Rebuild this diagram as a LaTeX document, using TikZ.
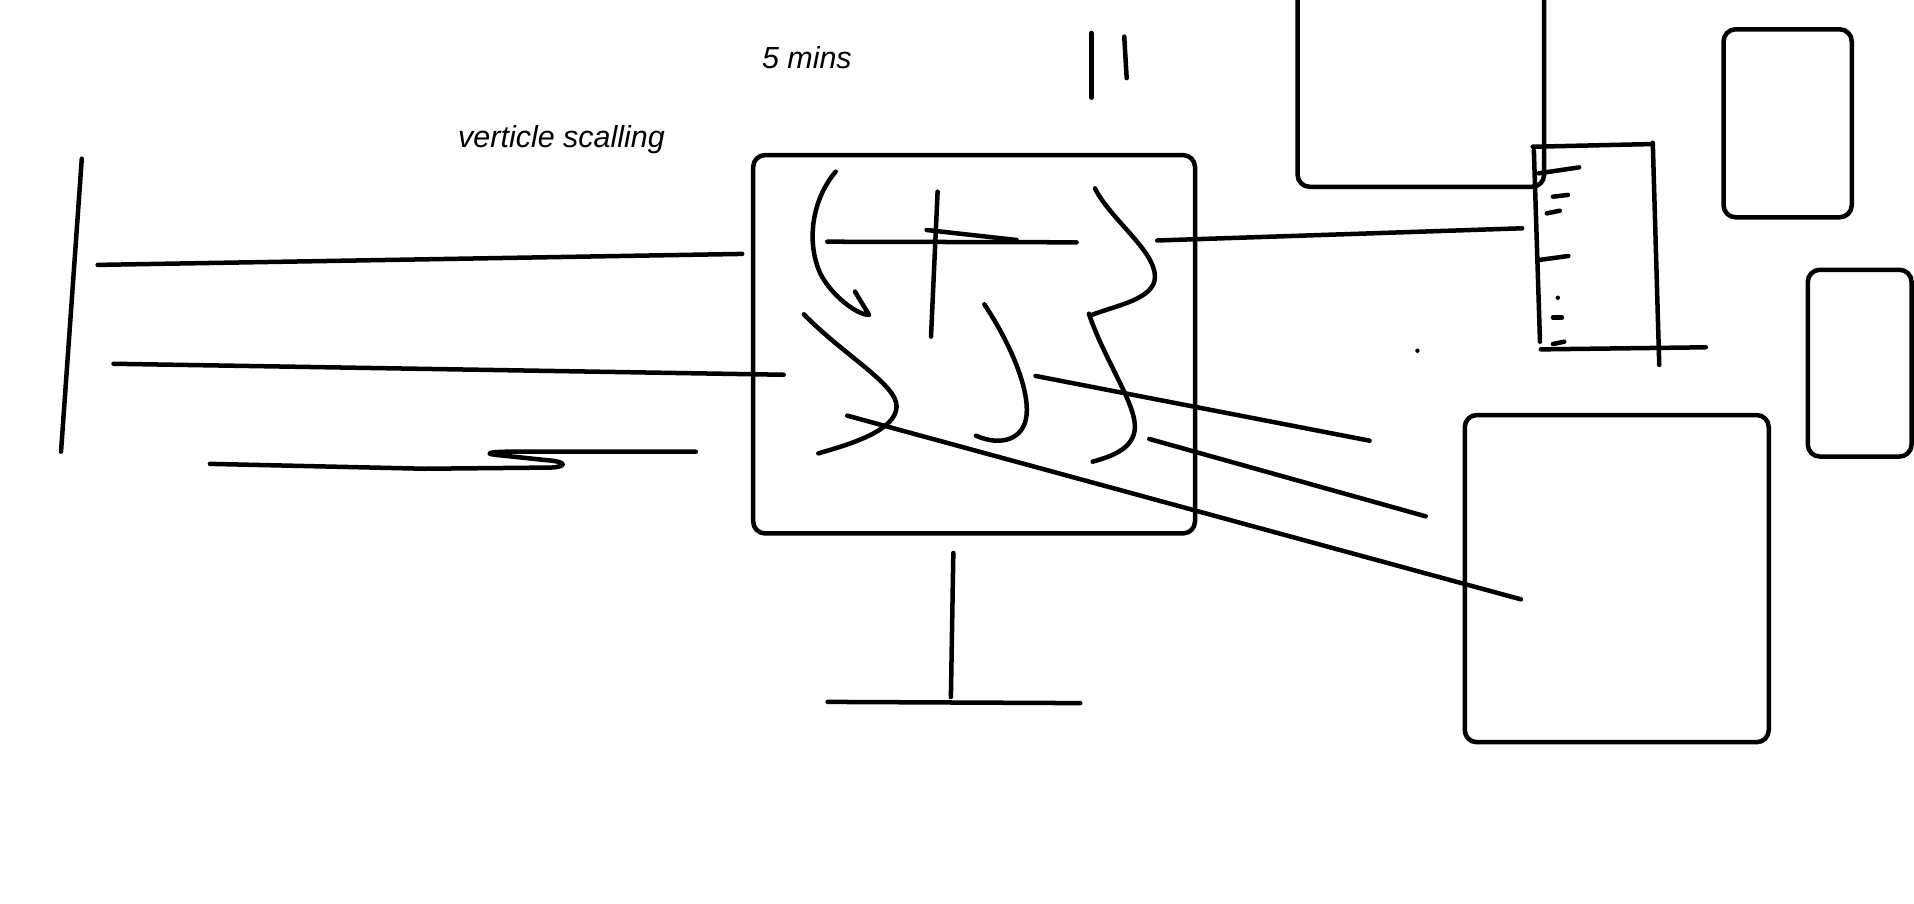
\documentclass[tikz,border=0pt]{standalone}
\usepackage{fontspec}
\setmainfont{Liberation Sans}
\usepackage{tikz}
\usetikzlibrary{positioning}

\begin{document}
\begin{tikzpicture}[
    x=0.1mm, y=-0.1mm,
    sketch/.style={line width=1.05pt, line cap=round, line join=round},
    panel/.style={sketch, rounded corners=2.8pt},
    note/.style={font=\fontsize{7.1}{8.5}\selectfont\itshape, inner sep=0pt}
]
\useasboundingbox (0,0) rectangle (1568,740);
\clip (0,0) rectangle (1568,740);

% Labels
\node[note] (fivemins) at (661,47) {5 mins};
\node[note] (vscaling) at (460,114) {verticle scalling};

% Left strokes
\draw[sketch] (67,130) -- (50,370);
\draw[sketch] (80,217) -- (608,208);
\draw[sketch] (93,298) -- (642,307);
\draw[sketch] (172,380) -- (348,384) -- (452,383)
    .. controls (466,382) and (463,378) .. (448,377) -- (410,373)
    .. controls (396,372) and (398,370) .. (420,370) -- (570,370);

% Main screen
\draw[panel] (617,127) rectangle (979,437);
\draw[sketch] (781,453) -- (779,571);
\draw[sketch] (678,575) -- (885,576);
\draw[sketch] (894,27) -- (894,80);
\draw[sketch] (921,30) -- (923,64);

% Scribbles inside the screen
\draw[sketch] (684.6,140.6) .. controls (664,165) and (661,200) .. (672,224)
    .. controls (681,242) and (702,258) .. (712,258) -- (700.4,238.9);
\draw[sketch] (677.7,198) -- (882,198.5);
\draw[sketch] (768.1,157) -- (762.7,275.8);
\draw[sketch] (759.1,188.4) -- (832.9,196.6);
\draw[sketch] (658.6,257.5) .. controls (690,290) and (735,315) .. (734.5,333)
    .. controls (734,352) and (700,363) .. (670.4,371.4);
\draw[sketch] (806.4,249.3) .. controls (830,285) and (843,320) .. (841,340)
    .. controls (839,360) and (820,366) .. (799.5,356.9);
\draw[sketch] (897,154.3) .. controls (910,180) and (946,205) .. (946.2,226.7)
    .. controls (946,245) and (915,250) .. (894.3,258);
\draw[sketch] (892,257) .. controls (905,295) and (930,330) .. (929.8,350)
    .. controls (929,368) and (910,374) .. (895.1,378.2);

% Strokes leaving the screen
\draw[sketch] (948,197) -- (1247,187);
\draw[sketch] (848.4,308) -- (1122,361);
\draw[sketch] (941.5,359.6) -- (1168,423);
\draw[sketch] (694.1,340.5) -- (1246,491);

% Right side panels
\draw[panel] (1063,-20) -- (1063,153) -- (1265,153) -- (1265,-20);
\draw[panel] (1412,24) rectangle (1517,178);
\draw[panel] (1481,221) rectangle (1566,374);
\draw[panel] (1200,340) rectangle (1449,608);

% Ruler
\draw[sketch] (1255.6,120.2) -- (1353.4,118);
\draw[sketch] (1256.6,123.4) -- (1261.6,279.9);
\draw[sketch] (1354,116.9) -- (1359.3,299);
\draw[sketch] (1262.3,286.2) -- (1397.4,284.5);
\draw[sketch] (1260.6,142) -- (1293.7,137.1);
\draw[sketch] (1272.2,161.1) -- (1284.5,159.7);
\draw[sketch] (1267.2,174.8) -- (1277.8,172.6);
\draw[sketch] (1260.6,213) -- (1284.8,209.7);
\draw[sketch] (1272.2,260) -- (1279.5,260);
\draw[sketch] (1272.2,281.8) -- (1281.5,279.9);
\fill (1276.2,243.9) circle (1.8);
\fill (1161.2,287.3) circle (1.8);
\end{tikzpicture}
\end{document}
